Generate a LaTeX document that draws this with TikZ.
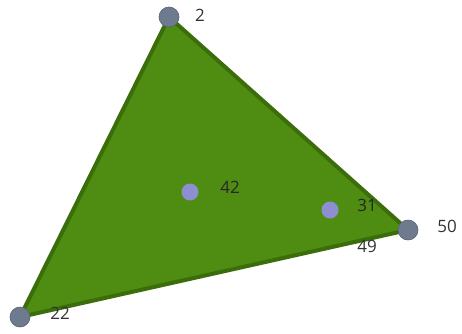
\documentclass[tikz,border=0pt]{standalone}
\usepackage{fontspec}
\setmainfont{Open Sans}
\definecolor{tri}{HTML}{4E8C12}
\definecolor{triedge}{HTML}{3B6E0A}
\definecolor{vert}{HTML}{6E7A8E}
\definecolor{inner}{HTML}{8E8ED2}
\definecolor{lbl}{HTML}{333333}
\begin{document}
\begin{tikzpicture}[x=1pt,y=-1pt,
  vtx/.style={circle,fill=vert,draw=vert!80!black,line width=0.6pt,minimum size=20pt,inner sep=0pt},
  inpt/.style={circle,fill=inner,minimum size=17pt,inner sep=0pt},
  lab/.style={text=lbl,font=\fontsize{17}{20}\selectfont,inner sep=0pt}]
\useasboundingbox (0,0) rectangle (462,333);
\coordinate (A) at (169,17);
\coordinate (B) at (20,317);
\coordinate (C) at (408,230);
\filldraw[fill=tri,draw=triedge,line width=4pt,line join=round] (A) -- (C) -- (B) -- cycle;
\node[vtx] (n2) at (A) {};
\node[vtx] (n22) at (B) {};
\node[vtx] (n50) at (C) {};
\node[inpt] (n42) at (190,192) {};
\node[inpt] (n31) at (330,210) {};
\node[lab] (l2) at (200,15) {2};
\node[lab] (l22) at (60,313) {22};
\node[lab] (l50) at (447,226) {50};
\node[lab,text=black!85] (l42) at (230,187) {42};
\node[lab,text=black!85] (l31) at (367,205) {31};
\node[lab] (l49) at (367,246) {49};
\end{tikzpicture}
\end{document}
